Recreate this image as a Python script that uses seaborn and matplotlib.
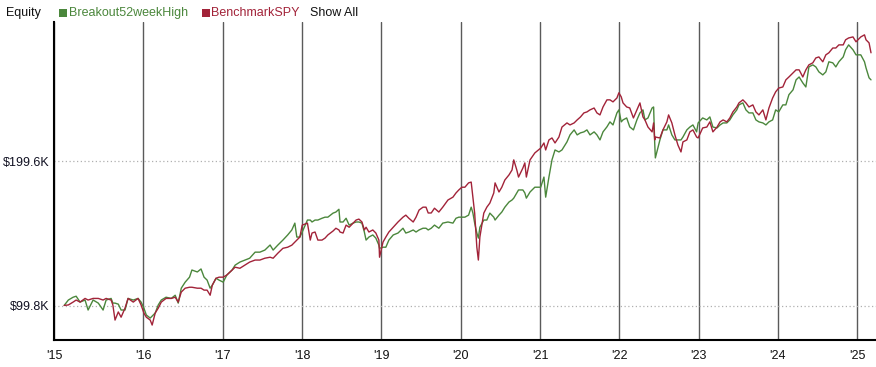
import matplotlib
matplotlib.use("Agg")
import matplotlib.pyplot as plt
import matplotlib.ticker as mticker
from matplotlib.patches import Rectangle
import pandas as pd
import seaborn as sns

# equity values in $K
dates = [
    # 2015
    "2015-01-02", "2015-01-21", "2015-02-12", "2015-02-26", "2015-03-16", "2015-04-08", "2015-04-22",
    "2015-05-15", "2015-06-08", "2015-06-30", "2015-07-14", "2015-08-06", "2015-08-14", "2015-08-24",
    "2015-09-08", "2015-09-21", "2015-10-09", "2015-10-23", "2015-11-16", "2015-12-08", "2015-12-22",
    # 2016
    "2016-01-04", "2016-01-15", "2016-02-02", "2016-02-11", "2016-02-25", "2016-03-10", "2016-03-24",
    "2016-04-15", "2016-05-09", "2016-05-27", "2016-06-10", "2016-06-24", "2016-07-12", "2016-08-01",
    "2016-08-12", "2016-09-06", "2016-09-23", "2016-10-07", "2016-10-21", "2016-11-04", "2016-11-14",
    "2016-12-01", "2016-12-15",
    # 2017
    "2017-01-03", "2017-01-20", "2017-02-13", "2017-02-27", "2017-03-21", "2017-04-13", "2017-05-05",
    "2017-05-30", "2017-06-21", "2017-07-14", "2017-08-07", "2017-08-21", "2017-09-12", "2017-10-05",
    "2017-10-27", "2017-11-15", "2017-11-29", "2017-12-08", "2017-12-22",
    # 2018
    "2018-01-02", "2018-01-26", "2018-02-08", "2018-02-16", "2018-03-02", "2018-03-15", "2018-04-03",
    "2018-04-17", "2018-04-30", "2018-05-24", "2018-06-06", "2018-06-20", "2018-06-25", "2018-07-09",
    "2018-07-23", "2018-08-06", "2018-08-24", "2018-09-07", "2018-09-20", "2018-10-04", "2018-10-15",
    "2018-10-23", "2018-11-05", "2018-11-23", "2018-12-07", "2018-12-21", "2018-12-24",
    # 2019
    "2019-01-09", "2019-01-22", "2019-02-05", "2019-02-25", "2019-03-19", "2019-04-11", "2019-04-24",
    "2019-05-08", "2019-05-28", "2019-06-10", "2019-06-24", "2019-07-12", "2019-07-26", "2019-08-05",
    "2019-08-19", "2019-09-03", "2019-09-23", "2019-10-11", "2019-11-04", "2019-11-27", "2019-12-11",
    "2019-12-24",
    # 2020
    "2020-01-07", "2020-01-21", "2020-02-07", "2020-02-19", "2020-02-27", "2020-03-06", "2020-03-16",
    "2020-03-23", "2020-03-30", "2020-04-17", "2020-05-01", "2020-05-15", "2020-06-02", "2020-06-08",
    "2020-06-26", "2020-07-09", "2020-07-23", "2020-08-11", "2020-08-25", "2020-09-02", "2020-09-16",
    "2020-09-24", "2020-10-14", "2020-10-23", "2020-10-30", "2020-11-16", "2020-12-08",
    # 2021
    "2021-01-04", "2021-01-19", "2021-01-27", "2021-02-11", "2021-02-25", "2021-03-11", "2021-03-29",
    "2021-04-12", "2021-05-05", "2021-05-19", "2021-06-07", "2021-06-21", "2021-07-06", "2021-07-22",
    "2021-08-05", "2021-08-19", "2021-09-07", "2021-09-20", "2021-10-04", "2021-10-18", "2021-11-05",
    "2021-11-19", "2021-12-03", "2021-12-21", "2021-12-30",
    # 2022
    "2022-01-10", "2022-01-18", "2022-02-04", "2022-02-18", "2022-03-07", "2022-03-23", "2022-04-06",
    "2022-04-20", "2022-04-29", "2022-05-13", "2022-06-01", "2022-06-08", "2022-06-13", "2022-06-16",
    "2022-07-07", "2022-07-21", "2022-08-08", "2022-08-16", "2022-08-31", "2022-09-14", "2022-09-28",
    "2022-10-12", "2022-10-21", "2022-11-08", "2022-11-22", "2022-12-06", "2022-12-23", "2022-12-30",
    # 2023
    "2023-01-20", "2023-02-08", "2023-02-22", "2023-03-08", "2023-03-27", "2023-04-10", "2023-04-24",
    "2023-05-11", "2023-05-25", "2023-06-08", "2023-06-26", "2023-07-06", "2023-07-24", "2023-08-07",
    "2023-08-21", "2023-09-08", "2023-09-22", "2023-10-06", "2023-10-24", "2023-11-07", "2023-11-21",
    "2023-12-08", "2023-12-22",
    # 2024
    "2024-01-05", "2024-01-24", "2024-02-07", "2024-02-21", "2024-03-11", "2024-03-25", "2024-04-08",
    "2024-04-25", "2024-05-09", "2024-05-23", "2024-06-10", "2024-06-24", "2024-07-08", "2024-07-26",
    "2024-08-09", "2024-08-23", "2024-09-10", "2024-09-24", "2024-10-08", "2024-10-28", "2024-11-08",
    "2024-11-22", "2024-12-12", "2024-12-26",
    # 2025
    "2025-01-17", "2025-02-03", "2025-02-10", "2025-02-24", "2025-03-05",
]

breakout = [
    100.0, 102.6, 104.0, 104.5, 101.6, 102.6, 97.8, 102.6, 101.1, 97.8, 102.6, 103.4, 101.1, 101.1,
    100.6, 97.8, 97.8, 103.4, 102.6, 103.4, 101.6,
    98.7, 95.5, 94.1, 95.0, 96.4, 100.2, 102.6, 104.0, 103.4, 105.0, 101.1, 108.6, 111.8, 114.5,
    118.5, 117.4, 119.1, 114.5, 112.9, 108.6, 110.2, 113.9, 112.9,
    111.8, 115.7, 118.5, 121.3, 123.1, 124.3, 125.4, 129.1, 129.1, 130.4, 133.6, 130.4, 133.6, 136.8,
    140.2, 143.6, 148.4, 138.8, 138.8,
    142.2, 150.6, 150.6, 149.2, 150.6, 150.6, 151.9, 152.7, 152.7, 155.7, 156.5, 158.6, 149.2, 149.2,
    151.9, 147.0, 148.4, 149.2, 149.2, 148.4, 142.2, 136.8, 138.8, 140.2, 138.1, 133.5, 131.5,
    132.2, 132.2, 136.8, 140.2, 141.5, 144.8, 141.5, 142.2, 143.6, 142.2, 143.6, 144.8, 144.8, 143.6,
    144.8, 147.0, 144.8, 148.4, 149.2, 148.4, 151.9, 152.7,
    152.7, 152.7, 154.2, 160.2, 155.7, 148.4, 141.5, 138.1, 145.5, 150.6, 150.6, 155.7, 152.7, 150.6,
    154.2, 156.5, 160.2, 164.2, 165.8, 167.3, 171.5, 174.0, 174.0, 171.5, 167.3, 172.3, 176.3,
    176.3, 185.1, 168.1, 185.1, 201.0, 210.8, 208.8, 210.8, 219.1, 226.6, 232.1, 226.6, 228.8, 229.9,
    232.1, 226.6, 229.9, 226.6, 221.2, 229.9, 235.5, 241.2, 237.7, 251.8, 255.5,
    241.2, 243.5, 245.8, 235.5, 232.1, 243.5, 251.8, 255.5, 243.5, 245.8, 257.8, 259.1, 218.0, 202.9,
    221.2, 232.1, 232.1, 237.7, 226.6, 221.2, 221.2, 221.2, 224.3, 232.1, 235.3, 237.7, 229.9, 240.0,
    245.8, 243.5, 247.0, 235.3, 234.3, 237.7, 240.0, 240.0, 243.5, 249.4, 255.5, 261.7, 264.2, 255.5,
    251.8, 251.8, 243.5, 241.2, 240.0, 237.7, 241.2, 243.5, 255.5,
    253.0, 261.7, 261.7, 274.8, 281.3, 295.1, 299.2, 290.8, 285.2, 314.0, 317.1, 314.0, 306.6, 302.2,
    306.6, 321.8, 320.2, 314.0, 321.8, 329.4, 340.9, 349.0, 340.9, 332.7,
    332.7, 321.8, 312.6, 298.0, 295.1,
]

benchmark = [
    100.0, 100.2, 101.6, 102.6, 101.6, 103.4, 102.6, 103.4, 103.4, 102.6, 103.4, 102.6, 100.2, 93.2,
    96.9, 94.5, 98.7, 103.4, 101.6, 103.4, 100.2,
    96.4, 94.5, 93.2, 91.0, 96.4, 98.7, 101.6, 103.4, 103.4, 104.0, 101.6, 106.6, 108.6, 109.1,
    109.1, 108.6, 108.6, 107.6, 107.6, 105.0, 110.2, 113.9, 114.5,
    114.5, 115.7, 118.5, 120.1, 119.5, 121.3, 123.1, 124.3, 124.3, 125.4, 126.0, 125.4, 128.5, 131.5,
    132.2, 133.5, 135.5, 136.8, 138.8,
    147.0, 148.4, 136.8, 141.5, 142.2, 136.8, 136.8, 138.1, 140.2, 142.9, 144.8, 143.6, 142.2, 141.5,
    147.0, 145.5, 148.4, 150.6, 151.3, 149.2, 143.6, 145.5, 142.2, 143.6, 141.5, 136.8, 126.0,
    135.5, 138.8, 142.2, 145.5, 149.2, 152.7, 154.2, 151.9, 149.2, 152.7, 158.0, 160.2, 160.2, 155.8,
    155.8, 159.4, 156.5, 160.2, 165.8, 168.1, 171.5, 174.0,
    176.3, 176.3, 180.0, 180.7, 168.1, 155.7, 132.2, 124.3, 138.8, 155.7, 160.2, 163.4, 171.5, 180.0,
    172.3, 176.3, 182.5, 187.0, 191.5, 201.0, 191.5, 185.1, 193.3, 198.1, 185.1, 201.0, 207.8,
    212.7, 218.0, 210.8, 221.2, 223.3, 218.0, 224.3, 235.3, 240.0, 237.7, 240.0, 243.5, 246.9, 251.8,
    253.0, 255.5, 257.8, 251.8, 249.4, 259.1, 268.1, 268.1, 265.5, 270.5, 277.3,
    271.9, 264.2, 259.1, 257.9, 245.8, 255.5, 264.2, 247.0, 243.5, 235.3, 229.9, 240.0, 221.2, 224.3,
    223.3, 232.1, 241.2, 249.4, 240.0, 226.6, 215.8, 208.8, 219.1, 221.2, 229.9, 232.1, 224.3, 223.3,
    234.3, 235.3, 241.2, 229.9, 235.3, 241.2, 243.5, 241.2, 245.8, 253.0, 259.1, 264.2, 268.1, 264.2,
    259.1, 261.7, 253.0, 249.4, 255.5, 243.5, 257.8, 270.5, 278.6,
    283.7, 285.2, 295.1, 299.2, 305.1, 309.6, 309.6, 299.2, 309.6, 317.1, 320.2, 327.8, 329.4, 321.8,
    332.7, 336.0, 343.8, 343.8, 349.0, 349.0, 357.6, 360.8, 362.6, 354.2,
    362.6, 366.2, 357.6, 352.4, 336.0,
]

series_names = ["Breakout52weekHigh", "BenchmarkSPY"]
series_colors = ["#4b873c", "#a22339"]
ytick_values = [99.8, 199.6]
ytick_labels = ["$99.8K", "$199.6K"]
year_ticks = ["2016", "2017", "2018", "2019", "2020", "2021", "2022", "2023", "2024", "2025"]
xtick_labels = ["'15", "'16", "'17", "'18", "'19", "'20", "'21", "'22", "'23", "'24", "'25"]

df = pd.concat([
    pd.DataFrame({"date": pd.to_datetime(dates), "equity": breakout, "series": series_names[0]}),
    pd.DataFrame({"date": pd.to_datetime(dates), "equity": benchmark, "series": series_names[1]}),
])

sns.set_style("white")
plt.rcParams["font.family"] = ["Liberation Sans", "DejaVu Sans"]

fig = plt.figure(figsize=(8.76, 3.67), dpi=100)
ax = fig.add_axes([54 / 876, 27 / 367, 822 / 876, 318 / 367])

sns.lineplot(data=df, x="date", y="equity", hue="series", hue_order=series_names,
             palette=dict(zip(series_names, series_colors)), estimator=None,
             linewidth=1.0, legend=False, ax=ax)

ax.set_yscale("log")
ax.set_ylim(84.7, 389.5)
xmin, xmax = pd.Timestamp("2014-11-16"), pd.Timestamp("2025-03-28")
ax.set_xlim(xmin, xmax)

ax.yaxis.set_minor_locator(mticker.NullLocator())
ax.set_yticks(ytick_values)
ax.set_yticklabels(ytick_labels)
ax.set_xticks([xmin] + [pd.Timestamp(y + "-01-01") for y in year_ticks])
ax.set_xticklabels(xtick_labels)
ax.set_xlabel("")
ax.set_ylabel("")

ax.tick_params(axis="y", length=0, pad=3, labelsize=9, labelcolor="#111122")
ax.tick_params(axis="x", length=5, width=1, color="#5a5a5a", pad=2, labelsize=9, labelcolor="#111111")

ax.xaxis.grid(True, color="#5a5a5a", linewidth=1.0)
ax.yaxis.grid(True, color="#b0b0b0", linestyle=(0, (1, 2)), linewidth=0.9)
ax.set_axisbelow(True)

sns.despine(ax=ax, top=True, right=True)
for side in ["left", "bottom"]:
    ax.spines[side].set_color("black")
    ax.spines[side].set_linewidth(1.5)

# header legend
fig.text(6 / 876, 1 - 13 / 367, "Equity", fontsize=9, color="#111111", va="center", ha="left")
legend_x = [(59, 69), (202, 211)]
for (sq_x, tx_x), name, col in zip(legend_x, series_names, series_colors):
    fig.add_artist(Rectangle((sq_x / 876, 1 - 17 / 367), 8 / 876, 8 / 367,
                             transform=fig.transFigure, facecolor=col, edgecolor="none"))
    fig.text(tx_x / 876, 1 - 13 / 367, name, fontsize=9, color=col, va="center", ha="left")
fig.text(310 / 876, 1 - 13 / 367, "Show All", fontsize=9, color="#111111", va="center", ha="left")

fig.savefig("out.png", dpi=100)
